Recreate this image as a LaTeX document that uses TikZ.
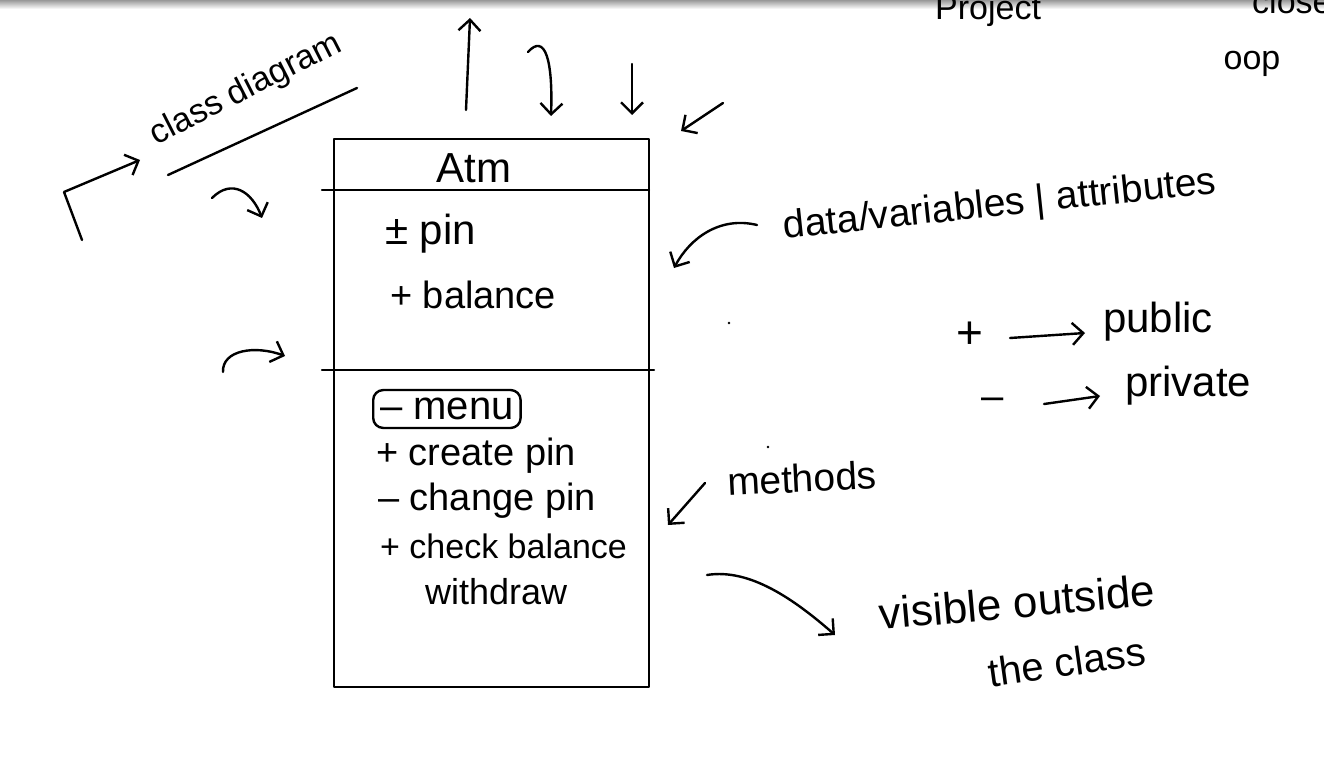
\documentclass[tikz,border=0pt]{standalone}
\usepackage{fontspec}
\setmainfont{Liberation Sans}
\usetikzlibrary{arrows.meta}
\begin{document}
\begin{tikzpicture}[x=1pt,y=-1pt,
  ink/.style={line width=2.4pt, line cap=round, line join=round},
  harrow/.style={ink,-{Straight Barb[length=11pt,width=22pt,line width=2.4pt]}},
  hw/.style={font=\fontsize{#1}{#1}\selectfont, inner sep=0pt},
  hw/.default=36]
\useasboundingbox (0,0) rectangle (1324,767);
\fill[white] (0,0) rectangle (1324,767);
\shade[top color=gray!80, bottom color=white] (0,0) rectangle (1324,9);

% class box
\coordinate (bTL) at (334,139);
\coordinate (bBR) at (649,687);
\draw[ink] (bTL) rectangle (bBR);
\coordinate (d1a) at (322,190); \coordinate (d1b) at (649,190);
\coordinate (d2a) at (322,370); \coordinate (d2b) at (654,370);
\draw[ink] (d1a) -- (d1b);
\draw[ink] (d2a) -- (d2b);

\node[hw=42] (atm) at (474,168) {Atm};
\node[hw=42, anchor=west] (pin) at (385,234) {± pin};
\node[hw=38, anchor=west] (bal) at (390,295) {+ balance};
\node[hw=40, anchor=west, draw, ink, rounded corners=10pt, inner xsep=7pt, inner ysep=8pt] (menu) at (372,409) {– menu};
\node[hw=38, anchor=west] (cp) at (376,456) {+ create pin};
\node[hw=38, anchor=west] (chp) at (378,501) {– change pin};
\node[hw=34, anchor=west] (cb) at (380,546) {+ check balance};
\node[hw=36, anchor=west] (wd) at (425,592) {withdraw};

% class diagram label
\node[hw=34, rotate=27] (cd) at (246,90) {class diagram};
\coordinate (ul1) at (168,175); \coordinate (ul2) at (357,88);
\draw[ink] (ul1) -- (ul2);
\coordinate (la1) at (82,240); \coordinate (la2) at (64,192); \coordinate (la3) at (140,160);
\draw[harrow] (la1) -- (la2) -- (la3);

\coordinate (ca1) at (212,198); \coordinate (ca2) at (262,218);
\draw[harrow] (ca1) .. controls (232,178) and (252,192) .. (ca2);
\coordinate (cb1) at (223,372); \coordinate (cb2) at (285,356);
\draw[harrow] (cb1) .. controls (222,350) and (255,345) .. (cb2);

% top arrows
\coordinate (t1a) at (466,110); \coordinate (t1b) at (470,18);
\draw[harrow] (t1a) -- (t1b);
\coordinate (t2a) at (528,52); \coordinate (t2b) at (551,116);
\draw[harrow] (t2a) .. controls (545,33) and (553,60) .. (t2b);
\coordinate (t3a) at (632,64); \coordinate (t3b) at (632,115);
\draw[harrow] (t3a) -- (t3b);
\coordinate (t4a) at (723,103); \coordinate (t4b) at (681,131);
\draw[harrow] (t4a) -- (t4b);

% data label
\node[hw=39, rotate=6] (data) at (1000,206) {data/variables | attributes};
\coordinate (da1) at (757,225); \coordinate (da2) at (674,268);
\draw[harrow] (da1) .. controls (720,216) and (690,238) .. (da2);

% public / private
\node[hw=46] (plus) at (970,335) {+};
\node[hw=42, anchor=west] (pub) at (1103,322) {public};
\coordinate (pa1) at (1010,338); \coordinate (pa2) at (1085,333);
\draw[harrow] (pa1) -- (pa2);
\node[hw=40] (minus) at (993,404) {–};
\node[hw=42, anchor=west] (priv) at (1125,386) {private};
\coordinate (pb1) at (1044,404); \coordinate (pb2) at (1100,396);
\draw[harrow] (pb1) -- (pb2);

% methods
\node[hw=39, rotate=3] (meth) at (802,478) {methods};
\coordinate (ma1) at (705,483); \coordinate (ma2) at (668,525);
\draw[harrow] (ma1) -- (ma2);

% visible outside the class
\coordinate (va1) at (707,575); \coordinate (va2) at (835,635);
\draw[harrow] (va1) .. controls (750,568) and (795,600) .. (va2);
\node[hw=44, rotate=5] (vis) at (1017,602) {visible outside};
\node[hw=40, rotate=8] (thecl) at (1067,662) {the class};

% top-right fragments
\node[hw=34] (oop) at (1252,64) {oop};
\node[hw=34, anchor=base west] (proj) at (935,20) {Project};
\node[hw=34, anchor=base west] (close) at (1252,14) {close};

% stray dots
\fill (729,323) circle (1.3pt);
\fill (768,447) circle (1.3pt);
\end{tikzpicture}
\end{document}
